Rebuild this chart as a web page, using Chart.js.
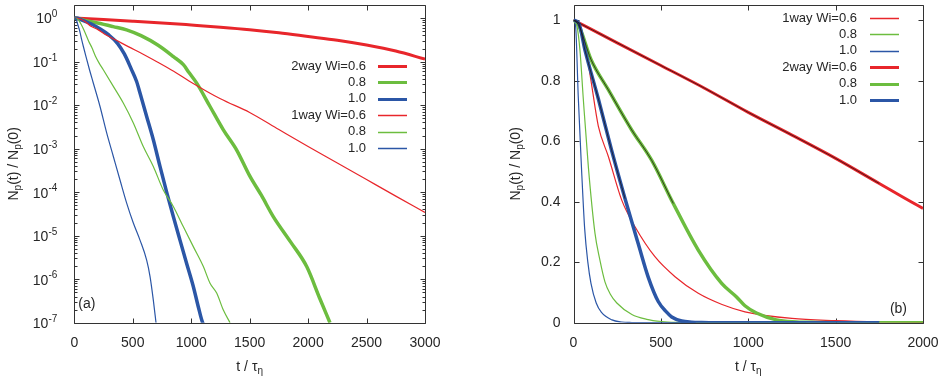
<!DOCTYPE html>
<html>
<head>
<meta charset="utf-8">
<script src="https://cdn.jsdelivr.net/npm/chart.js@4.4.1/dist/chart.umd.min.js"></script>
<style>
  html, body { margin: 0; padding: 0; background: #fff; }
  #wrap { position: relative; width: 946px; height: 390px; }
  canvas { position: absolute; top: 0; }
</style>
</head>
<body>
<div id="wrap">
  <canvas id="panelA" width="473" height="390" style="left:0"></canvas>
  <canvas id="panelB" width="473" height="390" style="left:473px"></canvas>
</div>
<script>
// ---- data: t / tau_eta and N_p(t)/N_p(0) ----
// 2way Wi=0.6 (thick red)
var t2w06 = [0, 250, 500, 750, 1000, 1250, 1500, 1750, 2000, 2250, 2500, 2750, 3000];
var n2w06 = [1, 0.925, 0.85, 0.775, 0.695, 0.62, 0.543, 0.46, 0.378, 0.31, 0.24, 0.175, 0.114];
// 2way Wi=0.8 (thick green)
var t2w08 = [0, 28, 100, 199, 333, 447, 571, 714, 848, 933, 981, 1047, 1161, 1275, 1389, 1503, 1600, 1702, 1850, 1988, 2100, 2187];
var n2w08 = [1, 0.985, 0.87, 0.77, 0.637, 0.537, 0.394, 0.24, 0.13, 0.085, 0.056, 0.032, 0.0093, 0.0027, 0.00093, 0.00023,
             8.5e-5, 2.75e-5, 7.2e-6, 1.95e-6, 3.6e-7, 1e-7];
// 2way Wi=1.0 (thick blue)
var t2w10 = [0, 30, 66, 142, 218, 295, 371, 428, 485, 533, 562, 619, 676, 733, 790, 847, 904, 961, 1018, 1061, 1098, 1400, 1750];
var n2w10 = [1, 0.99, 0.9, 0.74, 0.57, 0.41, 0.26, 0.15, 0.07, 0.035, 0.019, 0.0055, 0.0016, 0.00039, 0.0001, 2.75e-5,
             7.9e-6, 2.3e-6, 6.8e-7, 2.3e-7, 1e-7, 1e-8, 1e-9];
// 1way Wi=0.6 (thin red)
var t1w06 = [0, 30, 66, 100, 142, 199, 276, 352, 466, 581, 714, 850, 981, 1250, 1500, 1750, 2000, 2250, 2500, 2750, 3000];
var n1w06 = [1, 0.99, 0.92, 0.8, 0.65, 0.55, 0.405, 0.317, 0.218, 0.152, 0.097, 0.06, 0.036, 0.014, 0.0068, 0.00275,
             0.00112, 0.00047, 0.000195, 8.1e-5, 3.4e-5];
// 1way Wi=0.8 (thin green)
var t1w08 = [0, 20, 37, 56, 85, 123, 150, 180, 210, 248, 334, 419, 505, 590, 676, 761, 847, 933, 1018, 1104, 1161, 1218, 1275, 1332];
var n1w08 = [1, 0.98, 0.9, 0.74, 0.515, 0.295, 0.21, 0.135, 0.095, 0.065, 0.027, 0.0112, 0.0039, 0.00112, 0.00039, 0.000112,
             4.7e-5, 1.6e-5, 5.6e-6, 1.95e-6, 8.1e-7, 4.8e-7, 1.95e-7, 1e-7];
// 1way Wi=1.0 (thin blue)
var t1w10 = [0, 12, 27, 45, 64, 82, 100, 130, 160, 220, 277, 334, 391, 448, 505, 562, 619, 648, 676, 699];
var n1w10 = [1, 0.98, 0.75, 0.52, 0.31, 0.2, 0.13, 0.065, 0.034, 0.0093, 0.0023, 0.00066, 0.00019, 5.6e-5, 1.95e-5,
             7.9e-6, 2.75e-6, 1.15e-6, 3.3e-7, 1e-7];
// t where the dark line drawn over the 2way curves in (b) stops (0.6, 0.8, 1.0)
var darkEnd = [1750, 575, 300];

var ticksXa = [0, 500, 1000, 1500, 2000, 2500, 3000];
var labelsXa = ['0', '500', '1000', '1500', '2000', '2500', '3000'];
var ticksXb = [0, 500, 1000, 1500, 2000];
var labelsXb = ['0', '500', '1000', '1500', '2000'];
var ticksYb = [0, 0.2, 0.4, 0.6, 0.8, 1];
var labelsYb = ['0', '0.2', '0.4', '0.6', '0.8', '1'];
var decadesYa = [0, -1, -2, -3, -4, -5, -6, -7];
var legendA = ['2way Wi=0.6', '0.8', '1.0', '1way Wi=0.6', '0.8', '1.0'];
var legendB = ['1way Wi=0.6', '0.8', '1.0', '2way Wi=0.6', '0.8', '1.0'];

var FONT = '"Liberation Sans", Arial, Helvetica, sans-serif';
var TEXT = '#262626';
var RED = '#e8262b', GREEN = '#6cbd3f', BLUE = '#2b56a6';

var S = {
    r2: {t: t2w06, v: n2w06, c: RED, w: 3},
    g2: {t: t2w08, v: n2w08, c: GREEN, w: 3.5},
    b2: {t: t2w10, v: n2w10, c: BLUE, w: 3.5},
    r1: {t: t1w06, v: n1w06, c: RED, w: 1.2},
    g1: {t: t1w08, v: n1w08, c: GREEN, w: 1.2},
    b1: {t: t1w10, v: n1w10, c: BLUE, w: 1.2}
};

function pts(t, v) {
    return t.map(function(x, i) { return {x: x, y: v[i]}; });
}

function sets(keys, labels) {
    return keys.map(function(k, i) {
        return {
            label: labels[i],
            data: pts(S[k].t, S[k].v),
            borderColor: S[k].c,
            borderWidth: S[k].w,
            pointRadius: 0,
            fill: false,
            cubicInterpolationMode: 'monotone',
            order: keys.length - i   // later series drawn on top, like gnuplot
        };
    });
}

// mixed runs of text: 0 normal, 1 subscript, 2 superscript
function drawRuns(ctx, runs, x, y, align) {
    var fonts = ['14px ' + FONT, '10px ' + FONT, '10px ' + FONT];
    var dy = [0, 4, -5];
    var w = 0;
    runs.forEach(function(r) { ctx.font = fonts[r[1]]; w += ctx.measureText(r[0]).width; });
    var cx = align === 'center' ? x - w / 2 : (align === 'right' ? x - w : x);
    ctx.textAlign = 'left';
    ctx.textBaseline = 'middle';
    runs.forEach(function(r) {
        ctx.font = fonts[r[1]];
        ctx.fillText(r[0], cx, y + dy[r[1]]);
        cx += ctx.measureText(r[0]).width;
    });
}

var crisp = function(v) { return Math.round(v) + 0.5; };

var decor = {
    id: 'decor',
    beforeDatasetsDraw: function(chart, args, o) {
        var ctx = chart.ctx, a = chart.chartArea;
        var xs = chart.scales.x, ys = chart.scales.y;
        ctx.save();
        ctx.strokeStyle = '#333';
        ctx.lineWidth = 1;
        ctx.beginPath();
        var L = crisp(a.left), R = crisp(a.right), T = crisp(a.top), B = crisp(a.bottom);
        ctx.rect(L, T, R - L, B - T);
        // x ticks, bottom and mirrored on top
        xs.ticks.forEach(function(tk) {
            var px = crisp(xs.getPixelForValue(tk.value));
            ctx.moveTo(px, B); ctx.lineTo(px, B - 5);
            ctx.moveTo(px, T); ctx.lineTo(px, T + 5);
        });
        // y ticks, left and mirrored on right
        var yt = [];
        if (o.logY) {
            decadesYa.forEach(function(n) {
                yt.push([Math.pow(10, n), 5]);
                for (var k = 2; k <= 9; k++) {
                    var v = k * Math.pow(10, n);
                    if (v < ys.max) yt.push([v, 3]);
                }
            });
        } else {
            ys.ticks.forEach(function(tk) { yt.push([tk.value, 5]); });
        }
        yt.forEach(function(e) {
            var py = crisp(ys.getPixelForValue(e[0]));
            ctx.moveTo(L, py); ctx.lineTo(L + e[1], py);
            ctx.moveTo(R, py); ctx.lineTo(R - e[1], py);
        });
        ctx.stroke();
        ctx.restore();
    },
    afterDatasetsDraw: function(chart, args, o) {
        var ctx = chart.ctx, a = chart.chartArea, ys = chart.scales.y;
        ctx.save();
        ctx.fillStyle = TEXT;
        // log tick labels 10^n
        if (o.logY) {
            decadesYa.forEach(function(n) {
                var py = ys.getPixelForValue(Math.pow(10, n));
                drawRuns(ctx, [['10', 0], [String(n), 2]], a.left - 17, py + 1.5, 'right');
            });
        }
        // axis titles
        drawRuns(ctx, [['t / \u03c4', 0], ['\u03b7', 1]], (a.left + a.right) / 2, 367, 'center');
        ctx.save();
        ctx.translate(o.yTitleX, (a.top + a.bottom) / 2);
        ctx.rotate(-Math.PI / 2);
        drawRuns(ctx, [['N', 0], ['p', 1], ['(t) / N', 0], ['p', 1], ['(0)', 0]], 0, 0, 'center');
        ctx.restore();
        // panel tag
        ctx.font = '14px ' + FONT;
        ctx.textBaseline = 'middle';
        ctx.textAlign = o.tag.align;
        ctx.fillText(o.tag.text, o.tag.right ? a.right - o.tag.dx : a.left + o.tag.dx, o.tag.y);
        // key
        var K = o.key, row = 0;
        chart.data.datasets.forEach(function(ds) {
            if (ds.skip) return;
            var y = a.top + K.top + row * K.step;
            ctx.fillStyle = TEXT;
            ctx.font = '13px ' + FONT;
            ctx.textAlign = 'right';
            ctx.textBaseline = 'middle';
            ctx.fillText(ds.label, a.right - K.textRight, y);
            ctx.strokeStyle = ds.borderColor;
            ctx.lineWidth = ds.borderWidth > 2 ? 3 : 1.5;
            ctx.beginPath();
            ctx.moveTo(a.right - K.lineA, Math.round(y) + 0.5);
            ctx.lineTo(a.right - K.lineB, Math.round(y) + 0.5);
            ctx.stroke();
            row++;
        });
        ctx.restore();
    }
};

function xScale(max, ticks, labels, h) {
    return {
        type: 'linear', min: 0, max: max,
        grid: {display: false, drawTicks: false},
        border: {display: false},
        ticks: {
            padding: 12, color: TEXT, font: {family: FONT, size: 14}, maxRotation: 0,
            callback: function(value, index) { return labels[index]; }
        },
        afterBuildTicks: function(s) { s.ticks = ticks.map(function(v) { return {value: v}; }); },
        afterFit: function(s) { s.height = h; s.paddingLeft = 0; s.paddingRight = 0; }
    };
}

// ---- panel (a): log scale ----
new Chart(document.getElementById('panelA'), {
    type: 'line',
    data: {datasets: sets(['r2', 'g2', 'b2', 'r1', 'g1', 'b1'], legendA)},
    options: {
        responsive: false, animation: false, events: [], devicePixelRatio: 1,
        layout: {padding: {left: 2, top: 5, right: 48, bottom: 0}},
        scales: {
            x: xScale(3000, ticksXa, labelsXa, 67.3),
            y: {
                type: 'logarithmic', min: 1e-7, max: 2,
                grid: {display: false, drawTicks: false},
                border: {display: false},
                ticks: {display: false},
                afterFit: function(s) { s.width = 72.3; s.paddingTop = 0; s.paddingBottom = 0; }
            }
        },
        plugins: {
            legend: {display: false},
            tooltip: {enabled: false},
            decor: {
                logY: true, yTitleX: 14,
                tag: {text: '(a)', align: 'left', right: false, dx: 4, y: 304},
                key: {top: 61, step: 16.4, textRight: 59, lineA: 47, lineB: 18}
            }
        }
    },
    plugins: [decor]
});

// ---- panel (b): linear scale ----
var setsB = sets(['r1', 'g1', 'b1', 'r2', 'g2', 'b2'], legendB);
['r2', 'g2', 'b2'].forEach(function(k, i) {
    setsB.push({
        label: '', skip: true,
        data: pts(S[k].t, S[k].v).filter(function(p) { return p.x <= darkEnd[i]; }),
        borderColor: 'rgba(30,18,18,0.75)', borderWidth: 1,
        pointRadius: 0, fill: false, cubicInterpolationMode: 'monotone', order: -1
    });
});

new Chart(document.getElementById('panelB'), {
    type: 'line',
    data: {datasets: setsB},
    options: {
        responsive: false, animation: false, events: [], devicePixelRatio: 1,
        layout: {padding: {left: 27, top: 5, right: 23, bottom: 0}},
        scales: {
            x: xScale(2000, ticksXb, labelsXb, 67.3),
            y: {
                type: 'linear', min: 0, max: 1.05,
                grid: {display: false, drawTicks: false},
                border: {display: false},
                ticks: {
                    padding: 13, color: TEXT, font: {family: FONT, size: 14},
                    callback: function(value, index) { return labelsYb[index]; }
                },
                afterBuildTicks: function(s) { s.ticks = ticksYb.map(function(v) { return {value: v}; }); },
                afterFit: function(s) { s.width = 73.5; s.paddingTop = 0; s.paddingBottom = 0; }
            }
        },
        plugins: {
            legend: {display: false},
            tooltip: {enabled: false},
            decor: {
                logY: false, yTitleX: 43,
                tag: {text: '(b)', align: 'right', right: true, dx: 16, y: 309},
                key: {top: 13, step: 16.4, textRight: 66, lineA: 53, lineB: 24}
            }
        }
    },
    plugins: [decor]
});
</script>
</body>
</html>
